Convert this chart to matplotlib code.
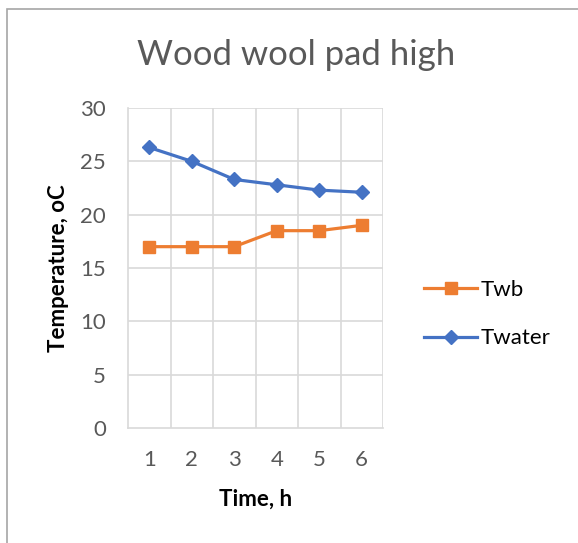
import matplotlib
matplotlib.use('Agg')
import matplotlib.pyplot as plt
from matplotlib.patches import Rectangle

# Data
time_h = [1, 2, 3, 4, 5, 6]
twb = [17, 17, 17, 18.5, 18.5, 19]
twater = [26.3, 25.0, 23.3, 22.8, 22.3, 22.1]
y_ticks = [0, 5, 10, 15, 20, 25, 30]

plt.rcParams['font.family'] = ['Lato', 'DejaVu Sans']

W, H = 578, 543
fig = plt.figure(figsize=(W / 100, H / 100), dpi=100)

# Chart border (Excel chart area), right and bottom edges run off the picture
fig.patches.append(Rectangle((7 / W, -0.1), 1.2, 1.1 - 9 / H, transform=fig.transFigure,
                             fill=False, edgecolor='#A6A6A6', linewidth=1.2))

# Plot area
left, right, top, bottom = 128, 383, 108, 428
ax = fig.add_axes([left / W, 1 - bottom / H, (right - left) / W, (bottom - top) / H])

ax.plot(time_h, twb, color='#ED7D31', linewidth=2.3, marker='s', markersize=9,
        label='Twb')
ax.plot(time_h, twater, color='#4472C4', linewidth=2.3, marker='D', markersize=7.5,
        label='Twater')

ax.set_xlim(0.5, 6.5)
ax.set_ylim(0, 30)
ax.set_yticks(y_ticks)
ax.set_xticks(time_h)

# Gridlines at category boundaries and value ticks
for xb in [1.5, 2.5, 3.5, 4.5, 5.5, 6.5]:
    ax.axvline(xb, color='#D9D9D9', linewidth=1.2, zorder=0)
for yv in y_ticks[1:]:
    ax.axhline(yv, color='#D9D9D9', linewidth=1.2, zorder=0)

for side in ['top', 'right']:
    ax.spines[side].set_visible(False)
for side in ['left', 'bottom']:
    ax.spines[side].set_color('#D9D9D9')
    ax.spines[side].set_linewidth(1.2)

ax.tick_params(axis='both', length=0, labelsize=16, labelcolor='#595959')
ax.tick_params(axis='x', pad=16)
ax.tick_params(axis='y', pad=16)

ax.set_xlabel('Time, h', fontsize=16, fontweight='bold', labelpad=13)
ax.set_ylabel('Temperature, oC', fontsize=16, fontweight='bold', labelpad=8)

fig.text(296 / W, 1 - 55 / H, 'Wood wool pad high', ha='center', va='center',
         fontsize=25, color='#595959')

ax.legend(loc='center left', bbox_to_anchor=(404 / W, 1 - 314 / H),
          bbox_transform=fig.transFigure, frameon=False, fontsize=16,
          handlelength=2.4, handletextpad=0.15, labelspacing=1.3)

fig.savefig('out.png', dpi=100)
